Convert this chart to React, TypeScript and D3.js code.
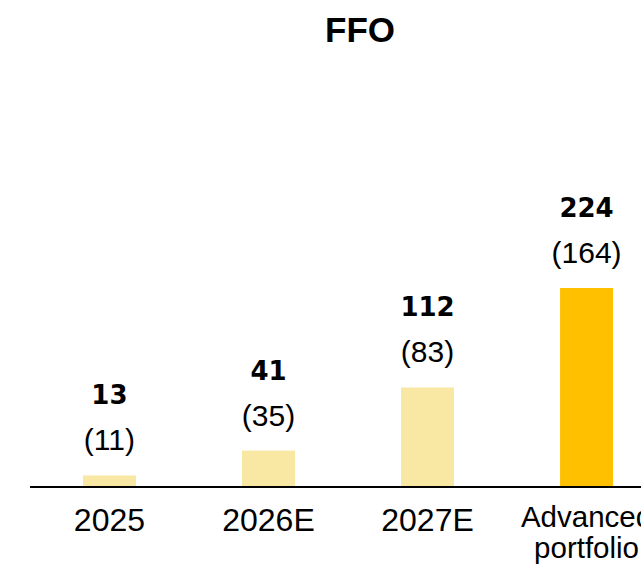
import React from "react";
import * as d3 from "d3";

const categories: string[][] = [["2025"], ["2026E"], ["2027E"], ["Advanced", "portfolio"]];
const values: number[] = [13, 41, 112, 224];
const subValues: number[] = [11, 35, 83, 164];
const highlight: boolean[] = [false, false, false, true];
const title = "FFO";

const W = 641;
const H = 565;

export default function App() {
  const x = d3
    .scaleBand<number>()
    .domain(d3.range(values.length))
    .range([30, 666])
    .paddingInner(0.667)
    .paddingOuter(0.333);
  const y = d3.scaleLinear().domain([0, 260]).range([487, 256]);
  const bw = x.bandwidth();

  return (
    <svg
      width={W}
      height={H}
      style={{ position: "absolute", left: 0, top: 0, display: "block", background: "#fff" }}
    >
      <text
        x={360}
        y={42}
        textAnchor="middle"
        fontFamily="Liberation Sans, Arial, sans-serif"
        fontWeight="bold"
        fontSize={35}
        fill="#000"
      >
        {title}
      </text>
      {values.map((v, i) => {
        const x0 = x(i)!;
        const cx = x0 + bw / 2;
        const top = y(v);
        const lines = categories[i];
        const multi = lines.length > 1;
        return (
          <g key={i}>
            <rect
              x={x0}
              y={top}
              width={bw}
              height={y(0) - top}
              fill={highlight[i] ? "#FFC000" : "#F8E8A3"}
            />
            <text
              x={cx}
              y={top - 71}
              textAnchor="middle"
              fontFamily="DejaVu Sans, sans-serif"
              fontWeight="bold"
              fontSize={26}
              fill="#000"
            >
              {v}
            </text>
            <text
              x={cx}
              y={top - 25}
              textAnchor="middle"
              fontFamily="Liberation Sans, Arial, sans-serif"
              fontSize={30}
              fill="#000"
            >
              ({subValues[i]})
            </text>
            {lines.map((line, j) => (
              <text
                key={j}
                x={cx}
                y={(multi ? 527 : 531) + j * 31}
                textAnchor="middle"
                fontFamily="Liberation Sans, Arial, sans-serif"
                fontSize={multi ? 29.5 : 32}
                fill="#000"
              >
                {line}
              </text>
            ))}
          </g>
        );
      })}
      <line x1={30} x2={W} y1={y(0)} y2={y(0)} stroke="#000" strokeWidth={2} />
    </svg>
  );
}
